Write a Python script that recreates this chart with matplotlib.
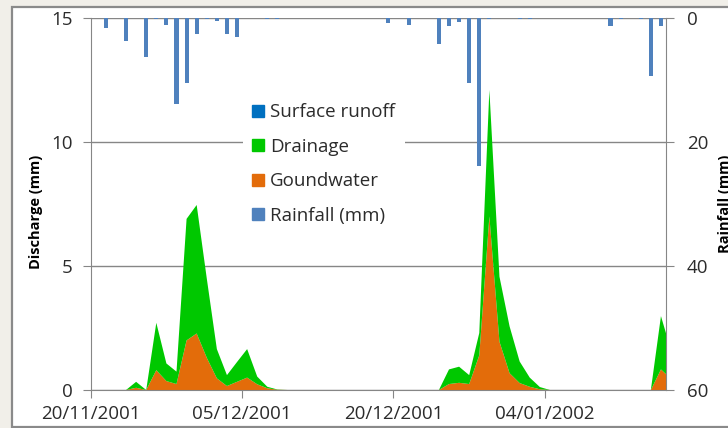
import numpy as np
import matplotlib
matplotlib.use("Agg")
from matplotlib import pyplot as plt
import matplotlib.dates as mdates
from matplotlib.patches import Rectangle, Patch

plt.rcParams['font.family'] = ['Open Sans', 'DejaVu Sans']

# daily series, 20/11/2001 .. 16/01/2002
start = np.datetime64('2001-11-20')
days = start + np.arange(58)

rainfall = [0, 1.6, 0, 3.7, 0, 6.3, 0.2, 1.2, 13.8, 10.5,
            2.6, 0.2, 0.5, 2.6, 3.1, 0, 0, 0.1, 0.1, 0,
            0, 0, 0, 0, 0, 0, 0, 0, 0, 0.75,
            0, 1.2, 0, 0, 4.2, 1.35, 0.6, 10.5, 23.9, 0.2,
            0, 0, 0.2, 0.2, 0, 0, 0, 0, 0, 0,
            0, 1.35, 0.2, 0, 0.2, 9.4, 1.35, 0]

groundwater = [0, 0, 0, 0, 0.09, 0, 0.8, 0.36, 0.24, 2.0,
               2.28, 1.3, 0.47, 0.16, 0.33, 0.5, 0.23, 0.07, 0.01, 0,
               0, 0, 0, 0, 0, 0, 0, 0, 0, 0,
               0, 0, 0, 0, 0, 0.24, 0.29, 0.24, 1.4, 7.0,
               1.95, 0.68, 0.28, 0.13, 0.03, 0, 0, 0, 0, 0,
               0, 0, 0, 0, 0, 0, 0.83, 0.45]

drainage = [0, 0, 0, 0, 0.24, 0, 1.91, 0.71, 0.5, 4.9,
            5.18, 3.2, 1.18, 0.44, 0.8, 1.15, 0.31, 0.06, 0.01, 0,
            0, 0, 0, 0, 0, 0, 0, 0, 0, 0,
            0, 0, 0, 0, 0, 0.59, 0.65, 0.36, 0.9, 5.1,
            2.62, 1.89, 0.87, 0.37, 0.09, 0, 0, 0, 0, 0,
            0, 0, 0, 0, 0, 0, 2.15, 1.15]

surface_runoff = [0] * 58

tick_dates = ['2001-11-20', '2001-12-05', '2001-12-20', '2002-01-04']

c_runoff = '#0070C0'
c_drain = '#00C800'
c_ground = '#E36C0A'
c_rain = '#4F81BD'
grey = '#868686'
txt = '#2b2b2b'

x = mdates.date2num(days.astype('datetime64[D]').astype(object)) + 0.5

fig = plt.figure(figsize=(7.28, 4.28), dpi=100)
fig.patch.set_facecolor('#f1efe9')
W, H = 728, 428
fig.add_artist(Rectangle((11.7 / W, 1 - 426.7 / H), 1, (426.7 - 6.7) / H,
                         transform=fig.transFigure, facecolor='white',
                         edgecolor='#8a8a8a', lw=1.6, zorder=0))

ax = fig.add_axes([90.7 / W, 1 - 390 / H, (666 - 90.7) / W, (390 - 18) / H])
ax.set_facecolor('none')
ax.stackplot(x, groundwater, drainage, surface_runoff,
             colors=[c_ground, c_drain, c_runoff], linewidth=0)

x0 = mdates.date2num(np.datetime64('2001-11-20').astype(object))
ax.set_xlim(x0, x0 + 57)
ax.set_ylim(0, 15)
ax.set_yticks([0, 5, 10, 15])
ax.yaxis.grid(True, color=grey, lw=1)
ax.set_axisbelow(True)
ax.set_xticks(mdates.date2num([np.datetime64(d).astype(object) for d in tick_dates]))
ax.xaxis.set_major_formatter(mdates.DateFormatter('%d/%m/%Y'))
for s in ['left', 'bottom', 'right']:
    ax.spines[s].set_color(grey)
ax.spines['top'].set_visible(False)
ax.tick_params(axis='both', colors=grey, length=6, labelsize=13.5,
               labelcolor=txt)
ax.tick_params(axis='y', pad=7)
ax.tick_params(axis='x', pad=5)
ax.set_ylabel('Discharge (mm)', fontsize=10.5, fontweight='bold', color='black')
ax.yaxis.set_label_coords(-0.083, 0.48)

ax2 = ax.twinx()
ax2.bar(x, rainfall, width=0.4, color=c_rain)
ax2.set_ylim(60, 0)
ax2.set_yticks([0, 20, 40, 60])
for s in ax2.spines.values():
    s.set_visible(False)
ax2.tick_params(axis='y', colors=grey, length=6, labelsize=13.5,
                labelcolor=txt, pad=9)
ax2.set_ylabel('Rainfall (mm)', fontsize=10.5, fontweight='bold', color='black')
ax2.yaxis.set_label_coords(1.09, 0.5)

handles = [Patch(color=c_runoff), Patch(color=c_drain),
           Patch(color=c_ground), Patch(color=c_rain)]
labels = ['Surface runoff', 'Drainage', 'Goundwater', 'Rainfall (mm)']
leg = ax2.legend(handles, labels, loc='upper left',
                 bbox_to_anchor=(243 / W, 1 - 94 / H),
                 bbox_transform=fig.transFigure, frameon=True,
                 fontsize=13.5, handlelength=0.6, handleheight=0.6,
                 handletextpad=0.35, labelspacing=0.88, borderpad=0.5,
                 borderaxespad=0)
leg.get_frame().set_edgecolor('none')
leg.get_frame().set_facecolor('white')
leg.get_frame().set_alpha(1)
for t in leg.get_texts():
    t.set_color(txt)

fig.savefig('out.png', dpi=100, facecolor=fig.get_facecolor())
